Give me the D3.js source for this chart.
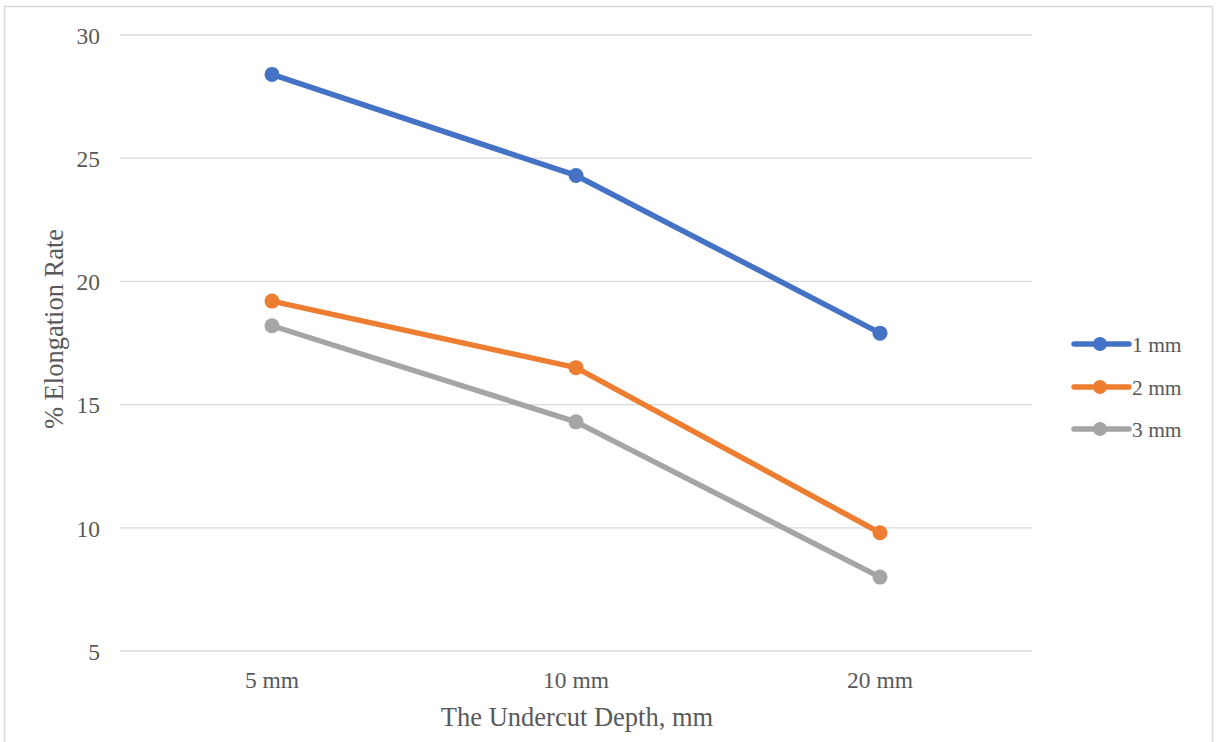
<!DOCTYPE html>
<html><head><meta charset="utf-8">
<script src="https://cdn.jsdelivr.net/npm/d3@7/dist/d3.min.js"></script>
<style>html,body{margin:0;padding:0;background:#fff;}svg{display:block;}</style>
</head><body>
<svg id="chart" width="1216" height="742"></svg>
<script>
const categories = ["5 mm", "10 mm", "20 mm"];
const seriesNames = ["1 mm", "2 mm", "3 mm"];
const series1 = [28.4, 24.3, 17.9];
const series2 = [19.2, 16.5, 9.8];
const series3 = [18.2, 14.3, 8.0];
const yTicks = [5, 10, 15, 20, 25, 30];
const colors = ["#4472C4", "#ED7D31", "#A5A5A5"];
const xTitle = "The Undercut Depth, mm";
const yTitle = "% Elongation Rate";

(function () {
const allSeries = [series1, series2, series3];
const svg = d3.select("#chart");
const font = "'Liberation Serif', 'Times New Roman', serif";
const textColor = "#595959";

svg.append("rect").attr("x", 4.5).attr("y", 6.5).attr("width", 1208).attr("height", 760)
  .attr("fill", "#fff").attr("stroke", "#d9d9d9").attr("stroke-width", 1.5);

const pL = 120, pR = 1032, pT = 35, pB = 651;
const x = d3.scaleBand().domain(categories).range([pL, pR]);
const y = d3.scaleLinear().domain([5, 30]).range([pB, pT]);

svg.append("g").selectAll("line").data(yTicks).join("line")
  .attr("x1", pL).attr("x2", pR)
  .attr("y1", d => y(d)).attr("y2", d => y(d))
  .attr("stroke", "#d9d9d9").attr("stroke-width", 1.3);

const yAxis = d3.axisLeft(y).tickValues(yTicks).tickSize(0).tickPadding(0);
const gy = svg.append("g").attr("transform", "translate(100,0)").call(yAxis);
gy.select(".domain").remove();
gy.selectAll("text").attr("font-family", font).attr("font-size", 23.5).attr("fill", textColor).attr("dy", "0.35em");

const xAxis = d3.axisBottom(x).tickSize(0).tickPadding(0);
const gx = svg.append("g").attr("transform", "translate(0,688)").call(xAxis);
gx.select(".domain").remove();
gx.selectAll("text").attr("font-family", font).attr("font-size", 23.5).attr("fill", textColor).attr("dy", 0).attr("y", 0);

svg.append("text").attr("x", 577).attr("y", 726).attr("text-anchor", "middle")
  .attr("font-family", font).attr("font-size", 26.5).attr("fill", textColor).text(xTitle);
svg.append("text").attr("transform", "translate(63,329) rotate(-90)").attr("text-anchor", "middle")
  .attr("font-family", font).attr("font-size", 26.5).attr("fill", textColor).text(yTitle);

const cx = (i) => x(categories[i]) + x.bandwidth() / 2;
const line = d3.line().x((d, i) => cx(i)).y(d => y(d));
allSeries.forEach((s, k) => {
  const g = svg.append("g");
  g.append("path").datum(s).attr("d", line).attr("fill", "none")
    .attr("stroke", colors[k]).attr("stroke-width", 5.5).attr("stroke-linejoin", "round").attr("stroke-linecap", "round");
  g.selectAll("circle").data(s).join("circle")
    .attr("cx", (d, i) => cx(i)).attr("cy", d => y(d))
    .attr("r", 7.5).attr("fill", colors[k]);
});

const legY = [344, 387, 429];
const leg = svg.append("g");
seriesNames.forEach((n, k) => {
  leg.append("line").attr("x1", 1074).attr("x2", 1129).attr("y1", legY[k]).attr("y2", legY[k])
    .attr("stroke", colors[k]).attr("stroke-width", 5.5).attr("stroke-linecap", "round");
  leg.append("circle").attr("cx", 1100).attr("cy", legY[k]).attr("r", 7).attr("fill", colors[k]);
  leg.append("text").attr("x", 1132).attr("y", legY[k]).attr("dy", "0.35em")
    .attr("font-family", font).attr("font-size", 21.5).attr("fill", textColor).text(n);
});
})();
</script>
</body></html>
